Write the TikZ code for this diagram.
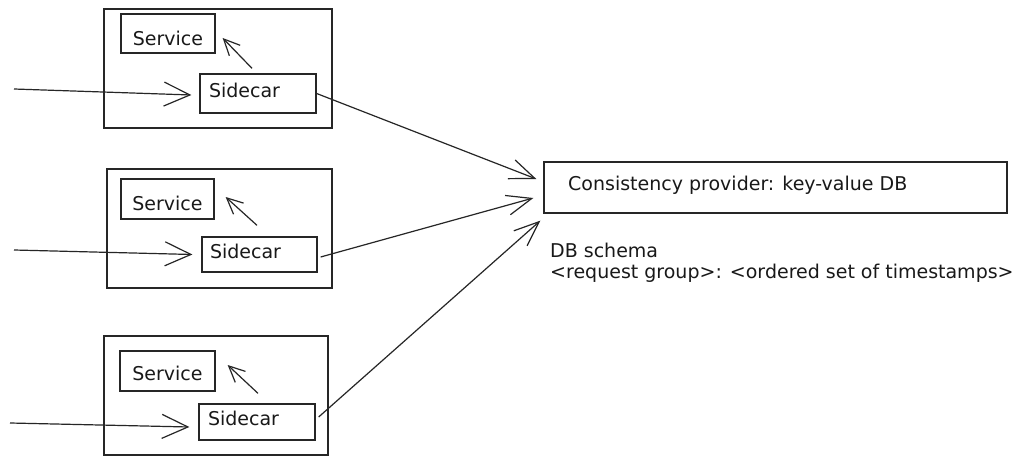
\documentclass[tikz,border=0pt]{standalone}
\usepackage{fontspec}
\setmainfont{DejaVu Sans}
\usetikzlibrary{arrows.meta}
\begin{document}
\begin{tikzpicture}[x=1pt,y=-1pt,
  box/.style={draw=black!85, line width=1.3pt, minimum width=#1, inner sep=0pt},
  lbl/.style={font=\fontsize{19}{21}\selectfont, inner sep=0pt, text=black!90},
  conn/.style={draw=black!85, line width=1.2pt},
  inarr/.style={conn, -{Straight Barb[length=26pt,width=24pt,line width=1.2pt]}},
  dbarr/.style={conn, -{Straight Barb[length=25pt,width=20pt,line width=1.2pt]}},
  svarr/.style={conn, -{Straight Barb[length=16pt,width=15pt,line width=1.2pt]}}
]
\useasboundingbox (0,0) rectangle (1019,465);
\fill[white] (0,0) rectangle (1019,465);

% group 1
\node[box=228pt, minimum height=119pt] (o1) at (218,68.5) {};
\node[box=94pt, minimum height=39pt] (sv1) at (168,33.5) {};
\node[box=116pt, minimum height=39pt] (sc1) at (258,93.5) {};
\node[lbl] (sv1t) at ([yshift=-5pt]sv1.center) {Service};
\node[lbl] (sc1t) at ([xshift=-13.5pt,yshift=3.5pt]sc1.center) {Sidecar};

% group 2
\node[box=225pt, minimum height=119pt] (o2) at (219.5,228.5) {};
\node[box=93pt, minimum height=40pt] (sv2) at (167.5,199) {};
\node[box=115pt, minimum height=35pt] (sc2) at (259.5,254.5) {};
\node[lbl] (sv2t) at ([yshift=-4pt]sv2.center) {Service};
\node[lbl] (sc2t) at ([xshift=-14pt,yshift=3.5pt]sc2.center) {Sidecar};

% group 3
\node[box=224pt, minimum height=119pt] (o3) at (216,395.5) {};
\node[box=95pt, minimum height=40pt] (sv3) at (167.5,371) {};
\node[box=116pt, minimum height=36pt] (sc3) at (257,422) {};
\node[lbl] (sv3t) at ([yshift=-2.5pt]sv3.center) {Service};
\node[lbl] (sc3t) at ([xshift=-13.5pt,yshift=4pt]sc3.center) {Sidecar};

% DB
\node[box=463pt, minimum height=51pt] (db) at (775.5,187.5) {};
\node[lbl, anchor=base west] (dbt) at (568,190) {Consistency provider: key-value DB};
\node[lbl, anchor=north west, align=left] (schema) at (550,242.5)
  {DB schema\\<request group>: <ordered set of timestamps>};

% incoming arrows
\coordinate (in1) at (14,89);
\coordinate (in2) at (14,250);
\coordinate (in3) at (10,423);
\draw[inarr] (in1) -- ([shift={(-8,1.5)}]sc1.west);
\draw[inarr] (in2) -- ([shift={(-9,0)}]sc2.west);
\draw[inarr] (in3) -- ([shift={(-9,5)}]sc3.west);

% sidecar -> service
\draw[svarr] ([shift={(-6,-5)}]sc1.north) -- ([shift={(7,4.5)}]sv1.east);
\draw[svarr] ([shift={(-2.5,-11)}]sc2.north) -- ([shift={(11,-2)}]sv2.east);
\draw[svarr] ([shift={(1,-10)}]sc3.north) -- ([shift={(12,-6)}]sv3.east);

% sidecar -> DB
\draw[dbarr] (sc1.east) -- ([shift={(-7,-8.5)}]db.west);
\draw[dbarr] ([shift={(3,2.5)}]sc2.east) -- ([shift={(-10,10.5)}]db.west);
\draw[dbarr] ([shift={(3,-5)}]sc3.east) -- ([shift={(-3,7)}]db.south west);
\end{tikzpicture}
\end{document}
